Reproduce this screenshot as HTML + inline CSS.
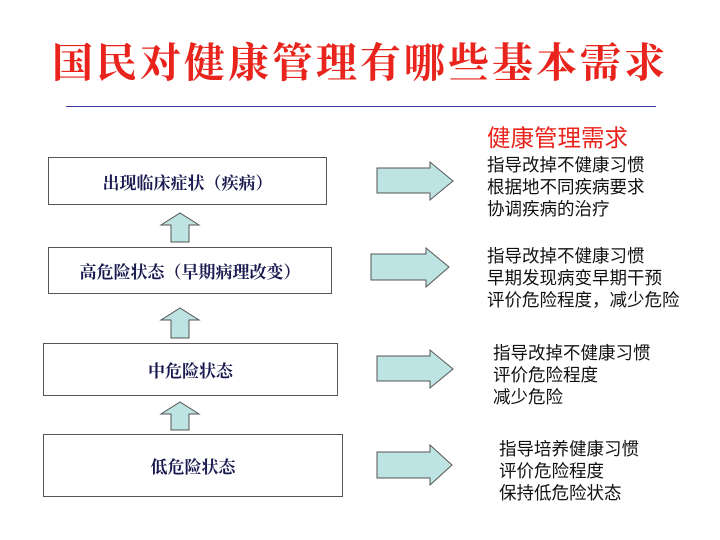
<!DOCTYPE html>
<html><head><meta charset="utf-8"><style>
body{margin:0;width:720px;height:540px;background:#fff;position:relative;overflow:hidden;font-family:"Liberation Sans","Noto Sans CJK SC",sans-serif}
.a{position:absolute}
.title{left:0;width:720px;top:30px;text-align:center;font-size:41px;color:#e8241c;font-weight:bold;font-family:"Liberation Serif","Noto Serif CJK SC",serif;letter-spacing:3px;white-space:nowrap}
.box{position:absolute;border:1.5px solid #555;box-sizing:border-box;display:flex;align-items:center;justify-content:center;font-weight:bold;color:#1a1a50;font-size:17px;font-family:"Liberation Serif","Noto Serif CJK SC",serif}
.t{position:absolute;font-size:17.5px;line-height:22px;color:#111;white-space:nowrap}
</style></head><body>
<div class="a title">国民对健康管理有哪些基本需求</div>
<div class="a" style="left:66px;top:106px;width:590px;height:1px;background:#3a3aa0"></div>
<div class="box" style="left:48px;top:157px;width:279px;height:48px">出现临床症状（疾病）</div>
<div class="box" style="left:48px;top:247px;width:284px;height:47px">高危险状态（早期病理改变）</div>
<div class="box" style="left:43px;top:343px;width:295px;height:53px">中危险状态</div>
<div class="box" style="left:43px;top:434px;width:300px;height:63px">低危险状态</div>
<svg class="a" style="left:0;top:0" width="720" height="540">
<g fill="#bde3e3" stroke="#555" stroke-width="1">
<polygon points="171,242 189,242 189,225 199,225 180,213 161,225 171,225"/>
<polygon points="171,338 189,338 189,320 199,320 180,308 161,320 171,320"/>
<polygon points="171,430 189,430 189,414 199,414 180,402 161,414 171,414"/>
<polygon points="377,168 430,168 430,162 453,181 430,200 430,193 377,193"/>
<polygon points="371,254 426,254 426,248 449,267 426,287 426,280 371,280"/>
<polygon points="377,356 430,356 430,350 453,369 430,388 430,381 377,381"/>
<polygon points="377,452 430,452 430,445 452,465 430,485 430,478 377,478"/>
</g></svg>
<div class="a" style="left:487px;top:119px;font-size:23.5px;color:#e8241c;white-space:nowrap">健康管理需求</div>
<div class="t" style="left:487px;top:154px">指导改掉不健康习惯<br>根据地不同疾病要求<br>协调疾病的治疗</div>
<div class="t" style="left:487px;top:245px">指导改掉不健康习惯<br>早期发现病变早期干预<br>评价危险程度，减少危险</div>
<div class="t" style="left:493px;top:342px">指导改掉不健康习惯<br>评价危险程度<br>减少危险</div>
<div class="t" style="left:499px;top:438px">指导培养健康习惯<br>评价危险程度<br>保持低危险状态</div>
</body></html>
